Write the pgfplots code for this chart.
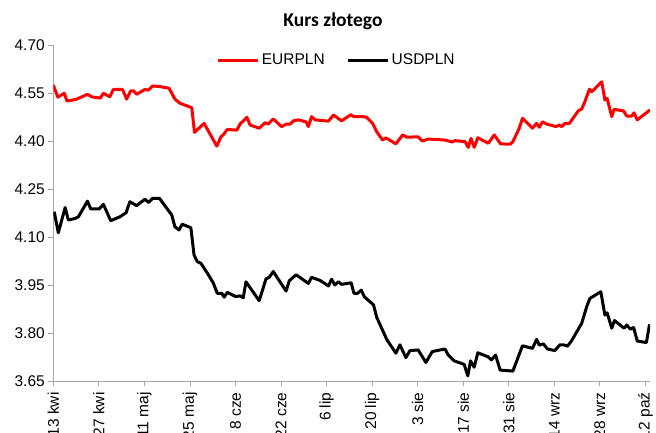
\documentclass[border=0pt]{standalone}
\usepackage{fontspec}
\setmainfont{Liberation Sans}
\newfontfamily\titlefont{Carlito}
\usepackage{pgfplots}
\pgfplotsset{compat=1.18}
\definecolor{axgray}{RGB}{166,166,166}
\begin{document}
\begin{tikzpicture}
\begin{axis}[
  at={(0pt,0pt)}, anchor=south west,
  scale only axis, width=596.7pt, height=336pt,
  xmin=0, xmax=131, ymin=3.65, ymax=4.70,
  axis x line*=bottom, axis y line*=left,
  axis line style={draw=axgray, line width=0.8pt, -},
  tick style={draw=axgray, line width=0.8pt},
  major tick length=5pt, tick align=outside,
  xtick={0,10,...,130},
  xticklabels={13 kwi,27 kwi,11 maj,25 maj,8 cze,22 cze,6 lip,20 lip,3 sie,17 sie,31 sie,14 wrz,28 wrz,12 paź},
  xticklabel shift=3pt,
  x tick label style={rotate=90, anchor=east, font=\fontsize{15.5}{17}\selectfont},
  ytick={3.65,3.80,3.95,4.10,4.25,4.40,4.55,4.70},
  y tick label style={font=\fontsize{15.5}{17}\selectfont},
  yticklabel style={/pgf/number format/.cd, fixed, fixed zerofill, precision=2, assume math mode=true},
  legend style={at={(0.475,0.955)}, anchor=center, legend columns=2, draw=none, fill=none,
     font=\fontsize{15.5}{17}\selectfont, /tikz/every even column/.append style={column sep=20pt}},
  legend image code/.code={\draw[#1, line width=3pt] (0pt,0pt) -- (40pt,0pt);},
  every axis plot/.append style={line width=3pt, line join=round, mark=none},
]
\addplot[red] coordinates {
(0,4.575)(1,4.537)(2.4,4.549)(3,4.525)(5,4.530)(7.5,4.546)(8.4,4.538)(10.3,4.534)(11,4.549)(12.4,4.538)
(13.2,4.561)(15.2,4.561)(16.1,4.531)(17,4.557)(17.6,4.557)(18.3,4.546)(20.1,4.561)(20.9,4.559)(21.8,4.572)(23.4,4.570)
(25.4,4.565)(26.7,4.531)(27.8,4.518)(30.4,4.504)(31,4.427)(33.1,4.455)(35.9,4.384)(36.8,4.413)(37.3,4.419)(38.2,4.436)
(40.3,4.434)(41,4.453)(42.5,4.474)(43.2,4.450)(45.2,4.440)(46.5,4.457)(47.2,4.453)(48.3,4.469)(50.1,4.445)(51.2,4.453)
(52,4.453)(52.7,4.463)(53.8,4.466)(55.5,4.460)(56,4.445)(56.7,4.476)(57.5,4.466)(60.4,4.462)(61.5,4.481)(63.3,4.463)
(65.3,4.482)(66,4.476)(68.1,4.476)(68.8,4.474)(70.1,4.455)(71,4.429)(72.3,4.403)(73,4.410)(75.2,4.391)(76.7,4.419)
(77.6,4.412)(80.1,4.413)(81,4.400)(82.3,4.406)(86,4.403)(87.5,4.397)(88.2,4.401)(90.4,4.398)(91.1,4.380)(91.7,4.408)
(92.4,4.380)(93.2,4.410)(95.5,4.393)(96.8,4.419)(98.2,4.391)(100.3,4.390)(100.9,4.398)(102.3,4.440)(103,4.471)(105.2,4.440)
(106.1,4.455)(106.7,4.443)(107.4,4.460)(108.3,4.453)(110.4,4.445)(111.1,4.450)(111.6,4.445)(112.3,4.455)(113.3,4.455)(115.3,4.495)
(116,4.500)(116.7,4.523)(117.7,4.562)(118.2,4.554)(120.4,4.585)(121.1,4.528)(121.6,4.533)(122.6,4.476)(123.1,4.499)(125.2,4.494)
(125.9,4.478)(127,4.478)(127.5,4.488)(128.2,4.466)(131,4.497)
};
\addlegendentry{EURPLN}
\addplot[black] coordinates {
(0.2,4.179)(1.1,4.113)(2.6,4.192)(3.3,4.153)(4.8,4.158)(5.5,4.163)(7.5,4.212)(8.2,4.188)(10.1,4.188)(11,4.202)
(12.6,4.151)(14.6,4.163)(16,4.176)(16.8,4.210)(18.3,4.198)(20.1,4.218)(20.9,4.208)(21.8,4.221)(23.3,4.221)(24.9,4.190)
(26,4.169)(26.7,4.132)(27.6,4.122)(28.3,4.140)(30.2,4.129)(30.9,4.044)(31.6,4.023)(32.4,4.018)(34,3.983)(35.1,3.957)
(36,3.924)(37,3.924)(37.5,3.912)(38.2,3.927)(40,3.914)(41,3.916)(41.7,3.910)(42.3,3.960)(45.2,3.901)(46.7,3.969)
(47.4,3.974)(48.3,3.992)(51.1,3.931)(51.8,3.963)(53.3,3.982)(56,3.955)(56.7,3.974)(58.6,3.964)(60.4,3.947)(61.1,3.968)
(61.8,3.950)(62.6,3.960)(63.3,3.952)(65.4,3.957)(66,3.924)(66.8,3.924)(67.6,3.934)(68.3,3.913)(70.3,3.888)(71,3.849)
(73.2,3.780)(75.2,3.737)(76.1,3.763)(77.4,3.723)(78.3,3.745)(80.1,3.747)(81.8,3.708)(83.2,3.742)(86,3.750)(86.7,3.731)
(88,3.713)(90.2,3.702)(91,3.666)(91.6,3.713)(92.4,3.693)(93.2,3.738)(95.4,3.726)(96.2,3.716)(97.1,3.731)(98.1,3.684)
(100.9,3.681)(103,3.760)(105.2,3.752)(106.1,3.780)(106.7,3.762)(107.6,3.766)(108.5,3.750)(110.1,3.745)(111.2,3.763)(112,3.763)
(112.9,3.759)(113.8,3.776)(116,3.830)(117.1,3.882)(117.8,3.908)(120.2,3.929)(121.1,3.856)(121.6,3.863)(122.6,3.815)(123.2,3.839)
(125.3,3.815)(125.9,3.825)(126.7,3.812)(127.4,3.817)(128.2,3.775)(130.2,3.770)(130.9,3.827)
};
\addlegendentry{USDPLN}
\end{axis}
\node[font=\titlefont\bfseries\fontsize{19.5}{21}\selectfont, anchor=base] at (279.7pt,354pt) {Kurs złotego};
\pgfresetboundingbox
\path[use as bounding box] (-53.3pt,-52pt) rectangle (602.7pt,381pt);
\end{tikzpicture}
\end{document}
